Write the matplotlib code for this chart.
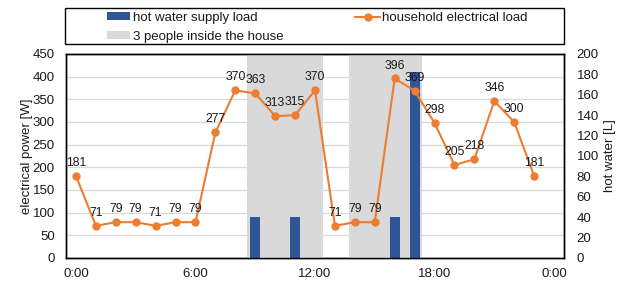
import matplotlib
matplotlib.use("Agg")
import matplotlib.pyplot as plt
from matplotlib.patches import Patch, Rectangle
from matplotlib.lines import Line2D

plt.rcParams['font.family'] = ['Liberation Sans', 'DejaVu Sans']

# ---- data ----
hours = list(range(24))
power_w = [181, 71, 79, 79, 71, 79, 79, 277, 370, 363, 313, 315, 370,
           71, 79, 79, 396, 369, 298, 205, 218, 346, 300, 181]
water_hours = [9, 11, 16, 17]
water_l = [40, 40, 40, 182]
occupied_spans = [(8.6, 12.4), (13.7, 17.35)]
xtick_pos = [0, 6, 12, 18, 24]
xtick_labels = ["0:00", "6:00", "12:00", "18:00", "0:00"]

BLUE = '#2F5597'
ORANGE = '#ED7D31'
GRAY = '#D9D9D9'
TXT = '#1a1a1a'
FS = 9.5

fig = plt.figure(figsize=(6.24, 2.82), dpi=100)
ax = fig.add_axes([66/624, 24/282, 498/624, 204/282])
ax2 = ax.twinx()

ax.set_xlim(-0.5, 24.5)
ax.set_ylim(0, 450)
ax2.set_ylim(0, 200)
ax.set_yticks(range(0, 451, 50))
ax2.set_yticks(range(0, 201, 20))
ax.set_xticks(xtick_pos)
ax.set_xticklabels(xtick_labels)
ax.grid(axis='y', color=GRAY, lw=0.9)
ax.set_axisbelow(True)

for s, e in occupied_spans:
    ax2.axvspan(s, e, color=GRAY, lw=0, zorder=0)
ax2.bar(water_hours, water_l, width=0.5, color=BLUE, zorder=2)
ax2.plot(hours, power_w, transform=ax.transData, color=ORANGE, marker='o',
         ms=5, lw=1.5, zorder=3)
for h, v in zip(hours, power_w):
    ax2.annotate(f"{v}", xy=(h, v), xycoords=ax.transData, xytext=(0, 5),
                 textcoords='offset points', ha='center', va='bottom',
                 fontsize=8.8, color=TXT, zorder=4)
ax2.set_xlim(-0.5, 24.5)
ax2.set_ylim(0, 200)

for a in (ax, ax2):
    a.tick_params(length=0, labelsize=FS, colors=TXT)
    for sp in a.spines.values():
        sp.set_color('black')
        sp.set_linewidth(1)
ax.tick_params(axis='y', pad=8)
ax.tick_params(axis='x', pad=7)
ax2.tick_params(axis='y', pad=9)

ax.set_ylabel("electrical power [W]", fontsize=FS, color=TXT, labelpad=0)
ax2.set_ylabel("hot water [L]", fontsize=FS, color=TXT, labelpad=4)

# legend box
fig.patches.append(Rectangle((65/624, (282-44)/282), 499/624, 36/282,
                             transform=fig.transFigure, fill=False,
                             edgecolor='black', lw=1))
h_bar = Patch(facecolor=BLUE, edgecolor='none')
h_gray = Patch(facecolor=GRAY, edgecolor='none')
h_line = Line2D([], [], color=ORANGE, marker='o', ms=5, lw=1.5)
fig.legend([h_bar, h_gray], ["hot water supply load", "3 people inside the house"],
           loc='upper left', bbox_to_anchor=(107/624, (282-12)/282),
           frameon=False, borderpad=0, borderaxespad=0, fontsize=FS,
           handlelength=1.75, handleheight=0.55, handletextpad=0.25,
           labelspacing=0.5, labelcolor=TXT)
fig.legend([h_line], ["household electrical load"],
           loc='upper left', bbox_to_anchor=(355/624, (282-12)/282),
           frameon=False, borderpad=0, borderaxespad=0, fontsize=FS,
           handlelength=1.9, handletextpad=0.15, labelcolor=TXT)

fig.savefig("out.png", dpi=100)
